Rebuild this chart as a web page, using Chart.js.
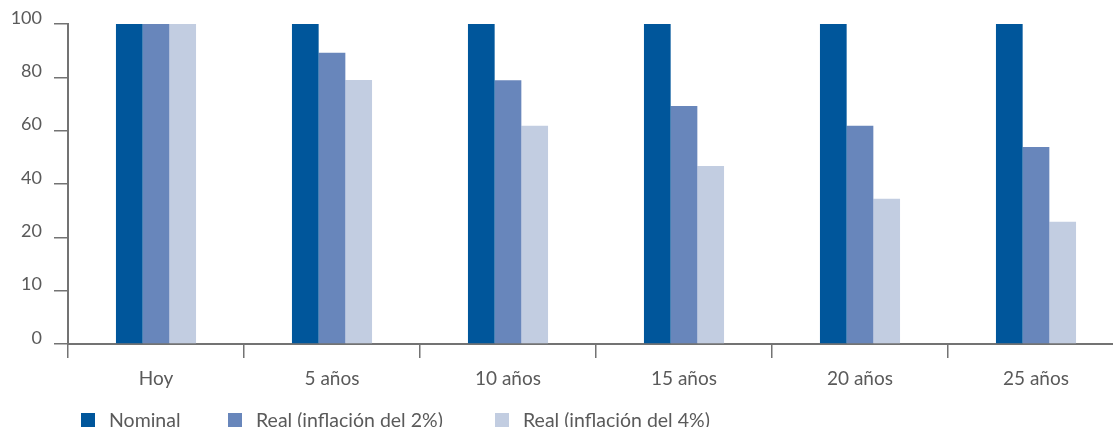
<!DOCTYPE html>
<html lang="es">
<head>
<meta charset="utf-8">
<title>Valor nominal y real</title>
<script src="https://cdn.jsdelivr.net/npm/chart.js@4.4.1/dist/chart.umd.min.js"></script>
<style>
  html, body { margin: 0; padding: 0; background: #fff; overflow: hidden; }
  #wrap { position: relative; width: 1124px; height: 427px; }
  #chart { position: absolute; left: 0; top: 0; }
  #legend {
    position: absolute; left: 81px; top: 408px;
    display: flex; align-items: center;
    font-family: Lato, "Open Sans", sans-serif; font-size: 19.5px; color: #5a5a5a;
  }
  .item { display: flex; align-items: center; white-space: nowrap; }
  .item:nth-child(1) { width: 147px; }
  .item:nth-child(2) { width: 267px; }
  .box { width: 14px; height: 14px; margin-right: 14px; flex: none; }
</style>
</head>
<body>
<div id="wrap">
  <canvas id="chart" width="1124" height="427"></canvas>
  <div id="legend"></div>
</div>
<script>
// Categories and series values
const categories = ["Hoy", "5 años", "10 años", "15 años", "20 años", "25 años"];
const nominal = [100, 100, 100, 100, 100, 100];
const real2 = [100, 91.0, 82.4, 74.4, 68.2, 61.6];
const real4 = [100, 82.5, 68.2, 55.6, 45.4, 38.2];
// Y tick labels, one per evenly spaced tick from 0 to 100
const yTickLabels = ["0", "10", "20", "40", "60", "80", "100"];

const seriesNames = ["Nominal", "Real (inflación del 2%)", "Real (inflación del 4%)"];
const seriesColors = ["#00569b", "#6886bb", "#c2cde1"];

const axisColor = "#737373";
const textColor = "#5a5a5a";
const fontFamily = "Lato, 'Open Sans', sans-serif";

const chart = new Chart(document.getElementById("chart"), {
  type: "bar",
  data: {
    labels: categories,
    datasets: [nominal, real2, real4].map((d, i) => ({
      label: seriesNames[i],
      data: d,
      backgroundColor: seriesColors[i],
      borderWidth: 0,
      categoryPercentage: 0.455,
      barPercentage: 1.0
    }))
  },
  options: {
    responsive: false,
    animation: false,
    layout: { padding: { top: 24, right: 0, bottom: 28, left: 0 } },
    plugins: {
      legend: { display: false },
      tooltip: { enabled: false }
    },
    scales: {
      x: {
        offset: true,
        grid: { offset: true, drawOnChartArea: false, drawTicks: true, tickLength: 14, color: axisColor, lineWidth: 1.5 },
        border: { color: axisColor, width: 2 },
        ticks: { color: textColor, font: { family: fontFamily, size: 19 }, padding: 9, maxRotation: 0 },
        afterFit: s => { s.height = 55; }
      },
      y: {
        min: 0,
        max: 100,
        grid: { drawOnChartArea: false, drawTicks: true, tickLength: 14, color: axisColor, lineWidth: 1.5 },
        border: { color: axisColor, width: 2 },
        afterBuildTicks: s => { s.ticks = yTickLabels.map((_, i) => ({ value: i * 100 / (yTickLabels.length - 1) })); },
        ticks: {
          color: textColor,
          font: { family: fontFamily, size: 18 },
          padding: 12,
          labelOffset: -6,
          callback: (v, i) => yTickLabels[i]
        },
        afterFit: s => { s.width = 68; }
      }
    }
  }
});

// Legend built from the chart's datasets
const legend = document.getElementById("legend");
chart.data.datasets.forEach(ds => {
  const item = document.createElement("div");
  item.className = "item";
  const box = document.createElement("span");
  box.className = "box";
  box.style.background = ds.backgroundColor;
  const label = document.createElement("span");
  label.textContent = ds.label;
  item.appendChild(box);
  item.appendChild(label);
  legend.appendChild(item);
});
</script>
</body>
</html>
